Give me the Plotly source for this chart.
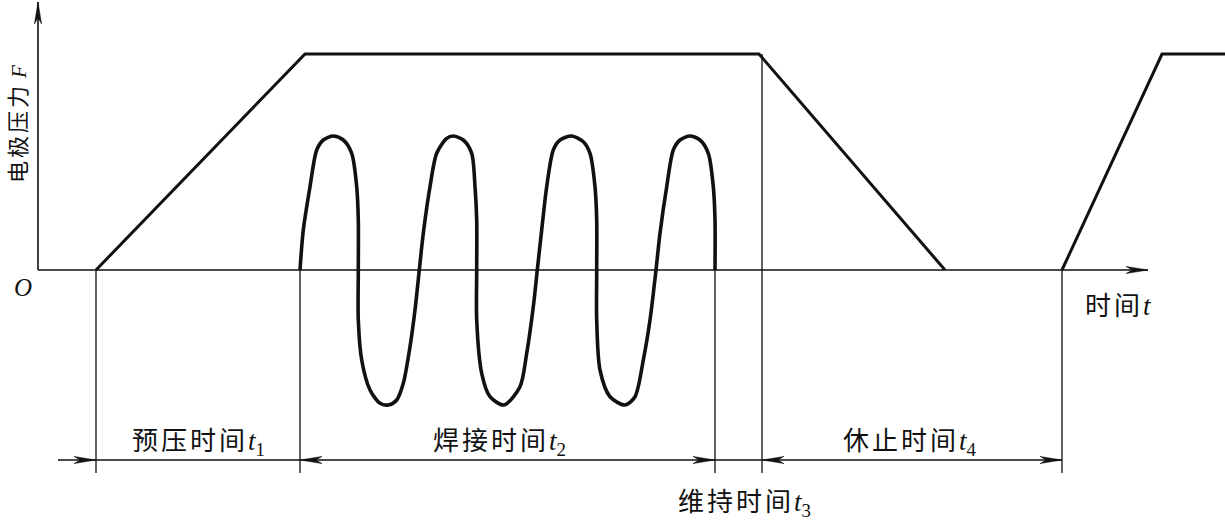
import plotly.graph_objects as go

# ---- data (time units / force units; origin O = (0, 0)) ----
force_t = [58, 267, 721, 907, None, 1024, 1124, 1187]
force_F = [0, 216, 216, 0, None, 0, 216, 216]

current_t = [262, 265.3, 272, 278.7, 285.3, 295.3, 305.3, 313.7, 318.7, 320.3, 320.3,
             320.3, 323.7, 332, 342, 350.3, 358.7, 365.3, 372, 377, 381.3,
             385.3, 392, 398.7, 408.7, 415.3, 425.3, 433.7, 437, 438.7, 438.7,
             438.7, 443.7, 452, 466, 482, 488.7, 495.3, 499.3,
             503.7, 508.7, 515.3, 522, 533.7, 545.3, 552, 557, 558.7, 558.7,
             558.7, 562, 572, 587, 597, 605.3, 612, 618,
             622, 628.7, 635.3, 642, 652, 662, 670.3, 675.3, 677, 677]
current_i = [0, 40, 83.3, 120, 130, 134, 130, 116.7, 83.3, 50, 0,
             -50, -90, -120, -133.3, -135, -130, -113.3, -76.7, -40, 0,
             36.7, 83.3, 116.7, 131.7, 134, 130, 116.7, 83.3, 50, 0,
             -50, -103.3, -126.7, -135, -116.7, -83.3, -36.7, 0,
             40, 83.3, 120, 130, 134, 128.3, 116.7, 83.3, 50, 0,
             -50, -100, -126.7, -135, -126.7, -90, -50, 0,
             36.7, 83.3, 120, 130, 134, 130, 116.7, 83.3, 50, 0]

# stage boundaries (t) and the extension line tops
stage_t = [58, 262, 677, 724, 1024]
stage_top = [0, 0, 0, 216, 0]
ext_bottom = -203
dim_level = -190
dim_start = 20
axis_x_end = 1110
axis_y_end = 268

stage_labels = ["预压时间", "焊接时间", "维持时间", "休止时间"]
stage_subs = ["1", "2", "3", "4"]
label_pos = [(160, -170), (461, -170), (706, -231), (872, -170)]

INK = "#111111"
fig = go.Figure()

# axes lines
fig.add_trace(go.Scatter(x=[0, axis_x_end], y=[0, 0], mode="lines",
                         line=dict(color=INK, width=1.6), hoverinfo="skip"))
fig.add_trace(go.Scatter(x=[0, 0], y=[0, axis_y_end], mode="lines",
                         line=dict(color=INK, width=1.6), hoverinfo="skip"))

# extension lines
ext_x, ext_y = [], []
for t, top in zip(stage_t, stage_top):
    ext_x += [t, t, None]
    ext_y += [top, ext_bottom, None]
fig.add_trace(go.Scatter(x=ext_x, y=ext_y, mode="lines",
                         line=dict(color=INK, width=1.3), hoverinfo="skip"))

# dimension line
fig.add_trace(go.Scatter(x=[dim_start, stage_t[-1]], y=[dim_level, dim_level], mode="lines",
                         line=dict(color=INK, width=1.6), hoverinfo="skip"))

# force curve
fig.add_trace(go.Scatter(x=force_t, y=force_F, mode="lines", connectgaps=False,
                         line=dict(color=INK, width=3), hoverinfo="skip"))

# welding current
fig.add_trace(go.Scatter(x=current_t, y=current_i, mode="lines",
                         line=dict(color=INK, width=3.6, shape="spline", smoothing=0.8),
                         hoverinfo="skip"))


def arrow_path(x, y, dx, dy, L=22, W=3.6, notch=0.72):
    px, py = -dy, dx
    bx, by = x - dx * L, y - dy * L
    nx, ny = x - dx * L * notch, y - dy * L * notch
    return (f"M {x},{y} L {bx + px * W},{by + py * W} L {nx},{ny} "
            f"L {bx - px * W},{by - py * W} Z")


heads = [
    (axis_x_end, 0, 1, 0),
    (0, axis_y_end, 0, 1),
    (stage_t[0], dim_level, 1, 0),
    (stage_t[1], dim_level, -1, 0),
    (stage_t[2], dim_level, 1, 0),
    (stage_t[3], dim_level, -1, 0),
    (stage_t[4], dim_level, 1, 0),
]
shapes = [dict(type="path", path=arrow_path(*h), xref="x", yref="y",
               fillcolor=INK, line=dict(color=INK, width=0.5)) for h in heads]

SERIF = "Liberation Serif"
CJK = "Noto Sans CJK SC"


def cjk(s, spacing):
    return f'<span style="letter-spacing:{spacing}px">{s}</span>'


def ital(s):
    return f'<span style="font-family:{SERIF};font-size:27px"><i>{s}</i></span>'


def sub(s):
    return f'<span style="font-family:{SERIF};font-size:27px"><sub>{s}</sub></span>'


annotations = []
for (lx, ly), lab, sb in zip(label_pos, stage_labels, stage_subs):
    annotations.append(dict(
        x=lx, y=ly, xref="x", yref="y", showarrow=False,
        text=cjk(lab, 3) + ital("t") + sub(sb),
        font=dict(family=CJK, size=26, color=INK)))

annotations.append(dict(x=1080, y=-33, xref="x", yref="y", showarrow=False,
                        text=cjk("时间", 3) + ital("t"),
                        font=dict(family=CJK, size=26, color=INK)))
annotations.append(dict(x=-15, y=-17, xref="x", yref="y", showarrow=False,
                        text="<i>O</i>", font=dict(family=SERIF, size=25, color=INK)))
annotations.append(dict(x=-22, y=146, xref="x", yref="y", showarrow=False, textangle=-90,
                        text=cjk("电极压力", 3) + " " +
                        f'<span style="font-family:{SERIF};font-size:21px"><i>F</i></span>',
                        font=dict(family=CJK, size=22, color=INK)))

fig.update_layout(
    width=1225, height=532,
    margin=dict(l=0, r=0, t=0, b=0),
    paper_bgcolor="white", plot_bgcolor="white",
    showlegend=False,
    xaxis=dict(range=[-38, 1187], visible=False, fixedrange=True),
    yaxis=dict(range=[-262, 270], visible=False, fixedrange=True),
    shapes=shapes, annotations=annotations,
)

fig.write_html("out.html", config={"displayModeBar": False},
               post_script="document.body.style.margin='0';document.body.style.overflow='hidden';")
